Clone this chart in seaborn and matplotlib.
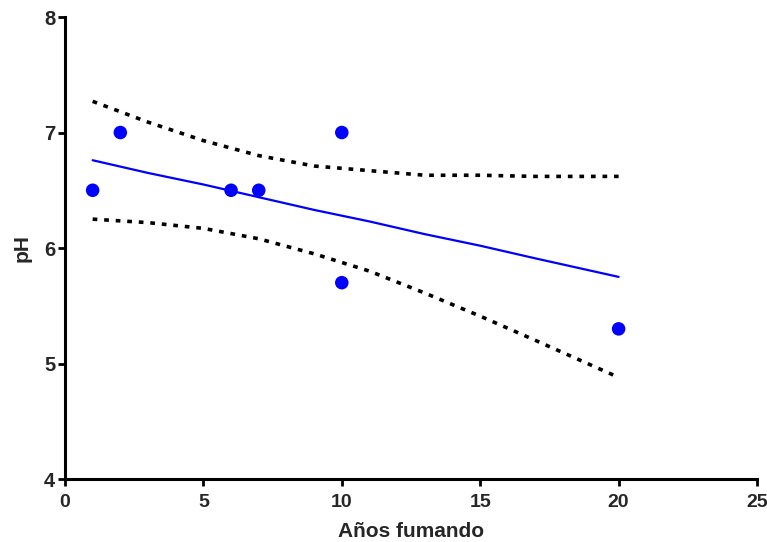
import matplotlib
matplotlib.use("Agg")
import matplotlib.pyplot as plt
import seaborn as sns
import pandas as pd

# Data
years = [1, 2, 6, 7, 10, 10, 20]
ph = [6.5, 7.0, 6.5, 6.5, 7.0, 5.7, 5.3]

fit_x = [1, 3, 5, 7, 9, 11, 13, 15, 17, 20]
fit_y = [6.76, 6.65, 6.55, 6.44, 6.33, 6.23, 6.12, 6.02, 5.91, 5.75]
ci_upper = [7.27, 7.09, 6.93, 6.80, 6.71, 6.67, 6.63, 6.63, 6.62, 6.62]
ci_lower = [6.25, 6.22, 6.17, 6.08, 5.95, 5.80, 5.61, 5.41, 5.20, 4.88]

x_ticks = [0, 5, 10, 15, 20, 25]
y_ticks = [4, 5, 6, 7, 8]

sns.set_style("ticks")
plt.rcParams['font.family'] = ['Liberation Sans', 'DejaVu Sans']

fig = plt.figure(figsize=(7.67, 5.42), dpi=100)
ax = fig.add_axes([0.0847, 0.1162, 0.9023, 0.8524])

pts = pd.DataFrame({"x": years, "y": ph})
fit = pd.DataFrame({"x": fit_x, "y": fit_y, "up": ci_upper, "lo": ci_lower})

sns.lineplot(data=fit, x="x", y="up", ax=ax, color="black", lw=2.6,
             linestyle=(0, (1.3, 1.9)))
sns.lineplot(data=fit, x="x", y="lo", ax=ax, color="black", lw=2.6,
             linestyle=(0, (1.3, 1.9)))
sns.lineplot(data=fit, x="x", y="y", ax=ax, color="#0000ff", lw=1.6)
sns.scatterplot(data=pts, x="x", y="y", ax=ax, color="#0000ff", s=95,
                edgecolor="none", zorder=5)

ax.set_xlim(0, 25)
ax.set_ylim(4, 8)
ax.set_xticks(x_ticks)
ax.set_yticks(y_ticks)
ax.set_xticklabels([str(t) for t in x_ticks], fontsize=14, fontweight="bold")
ax.set_yticklabels([str(t) for t in y_ticks], fontsize=14.5, fontweight="bold")
ax.set_xlabel("Años fumando", fontsize=15, fontweight="bold", labelpad=8)
ax.set_ylabel("pH", fontsize=15, fontweight="bold", labelpad=9)

for s in ["top", "right"]:
    ax.spines[s].set_visible(False)
for s in ["left", "bottom"]:
    ax.spines[s].set_linewidth(2.2)
    ax.spines[s].set_color("black")
ax.tick_params(axis="x", direction="out", length=5, width=2, color="black", pad=6)
ax.tick_params(axis="y", direction="out", length=5, width=2, color="black", pad=2)

fig.savefig("out.png", dpi=100)
